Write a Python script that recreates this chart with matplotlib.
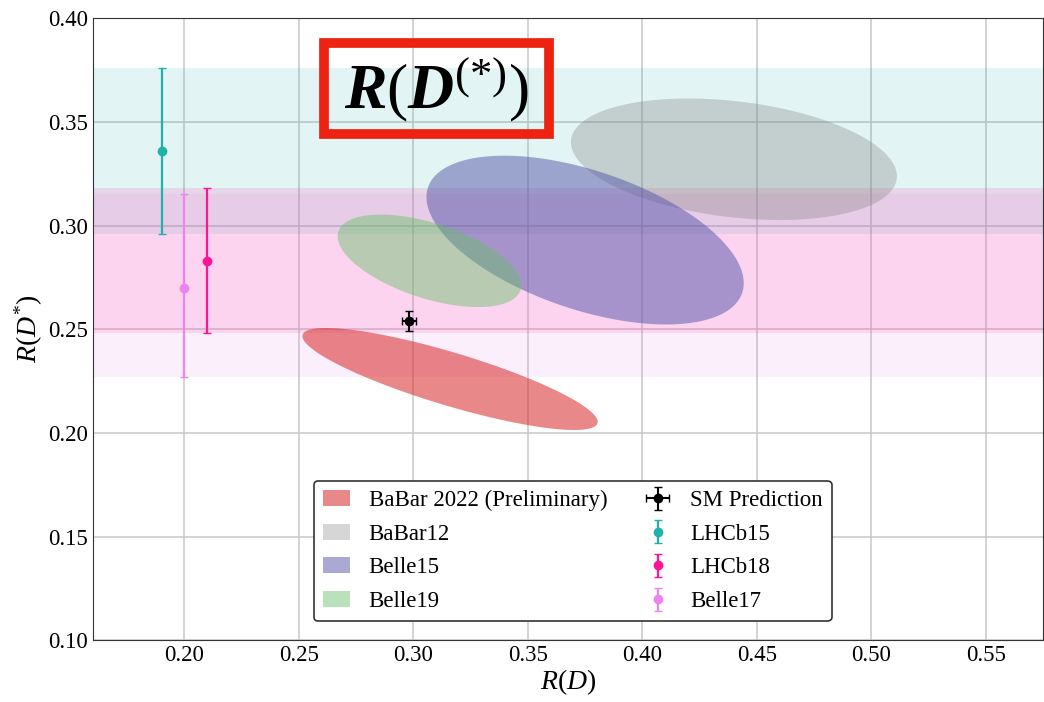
import numpy as np
import matplotlib.pyplot as plt
from matplotlib.patches import Polygon, Patch, Rectangle

plt.rcParams['font.family'] = ['Liberation Serif', 'DejaVu Serif']
plt.rcParams['mathtext.fontset'] = 'custom'
plt.rcParams['mathtext.rm'] = 'Liberation Serif'
plt.rcParams['mathtext.it'] = 'Liberation Serif:italic'
plt.rcParams['mathtext.bf'] = 'Liberation Serif:bold:italic'

# ellipses: name, R(D), R(D*), half-width in R(D), half-height in R(D*), correlation
ell_names = ['BaBar 2022 (Preliminary)', 'BaBar12', 'Belle15', 'Belle19']
ell_rd = [0.316, 0.440, 0.375, 0.307]
ell_rds = [0.226, 0.332, 0.293, 0.283]
ell_sx = [0.0645, 0.0712, 0.0693, 0.0401]
ell_sy = [0.0246, 0.0293, 0.0407, 0.0223]
ell_rho = [-0.84, -0.28, -0.51, -0.53]
ell_colors = ['#d62728', '#808080', '#5454a8', '#66bf66']
ell_alpha = [0.55, 0.32, 0.5, 0.45]

# R(D*) only measurements (drawn at arbitrary R(D) slot)
pt_names = ['LHCb15', 'LHCb18', 'Belle17']
pt_x = [0.190, 0.210, 0.200]
pt_y = [0.336, 0.283, 0.270]
pt_up = [0.040, 0.035, 0.045]
pt_dn = [0.040, 0.035, 0.043]
pt_colors = ['#20b2aa', '#ff1493', '#ee82ee']
band_alpha = [0.13, 0.13, 0.12]

# SM prediction
sm_x, sm_y = 0.298, 0.254
sm_xerr, sm_yerr = 0.003, 0.005

fig, ax = plt.subplots(figsize=(10.44, 7.02), dpi=100)
fig.subplots_adjust(left=0.089, right=0.999, bottom=0.088, top=0.974)

for y, up, dn, c, a in zip(pt_y, pt_up, pt_dn, pt_colors, band_alpha):
    ax.axhspan(y - dn, y + up, color=c, alpha=a, lw=0, zorder=1)

t = np.linspace(0, 2 * np.pi, 300)
ell_handles = []
for name, cx, cy, sx, sy, r, c, a in zip(ell_names, ell_rd, ell_rds, ell_sx, ell_sy,
                                         ell_rho, ell_colors, ell_alpha):
    xs = cx + sx * np.cos(t)
    ys = cy + sy * (r * np.cos(t) + np.sqrt(1 - r**2) * np.sin(t))
    ax.add_patch(Polygon(np.column_stack([xs, ys]), closed=True, fc=c, alpha=a,
                         lw=0, zorder=2))
    ell_handles.append(Patch(fc=c, alpha=a, lw=0, label=name))

sm = ax.errorbar(sm_x, sm_y, xerr=sm_xerr, yerr=sm_yerr, fmt='o', color='black',
                 ms=6, capsize=3, lw=1.5, zorder=4, label='SM Prediction')
pt_handles = []
for name, x, y, up, dn, c in zip(pt_names, pt_x, pt_y, pt_up, pt_dn, pt_colors):
    h = ax.errorbar(x, y, yerr=[[dn], [up]], fmt='o', color=c, ms=6, capsize=3,
                    lw=1.6, zorder=4, label=name)
    pt_handles.append(h)

ax.set_xlim(0.160, 0.575)
ax.set_ylim(0.10, 0.40)
ax.set_xticks(np.arange(0.20, 0.551, 0.05))
ax.set_yticks(np.arange(0.10, 0.401, 0.05))
ax.tick_params(labelsize=16.5, length=0)
ax.xaxis.set_major_formatter(plt.FormatStrFormatter('%.2f'))
ax.yaxis.set_major_formatter(plt.FormatStrFormatter('%.2f'))
ax.grid(True, color='#c8c8c8', lw=1.1)
ax.set_axisbelow(True)
for s in ax.spines.values():
    s.set_color('#333333')

ax.set_xlabel(r'$R(D)$', fontsize=20, labelpad=1)
ax.set_ylabel(r'$R(D^{*})$', fontsize=20, labelpad=2)

handles = ell_handles + [sm] + pt_handles
leg = ax.legend(handles=handles, ncol=2, loc='lower center',
                bbox_to_anchor=(0.505, 0.012), fontsize=16.5, frameon=True,
                edgecolor='#333333', framealpha=1, columnspacing=1.6,
                handlelength=1.2, handletextpad=0.8, borderpad=0.4,
                labelspacing=0.55)
leg.get_frame().set_linewidth(1.2)

fig.text(0.4175, 0.873, r'$\mathbf{R}(\mathbf{D}^{(*)})$', fontsize=46,
         ha='center', va='center')
fig.patches.append(Rectangle((324 / 1044, 1 - 134 / 702), 225 / 1044, 91 / 702,
                             transform=fig.transFigure, fill=False,
                             ec='#ee2211', lw=7))

fig.savefig('out.png', dpi=100)
